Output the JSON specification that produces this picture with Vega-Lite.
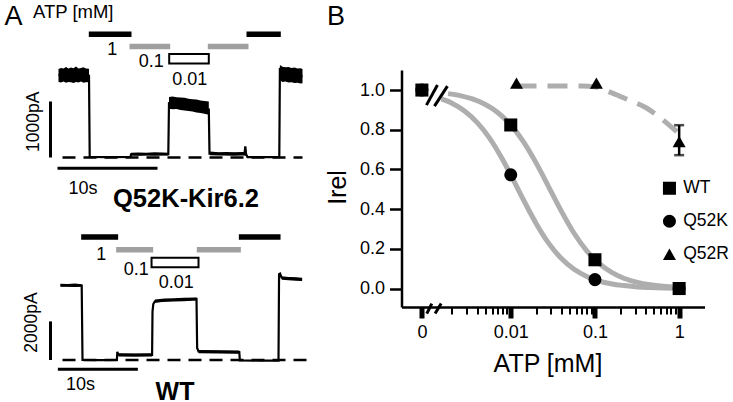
{
  "$schema": "https://vega.github.io/schema/vega-lite/v6.json",
  "background": "white",
  "padding": {"left": 3.5, "top": 2, "right": 5, "bottom": 5},
  "spacing": 13,
  "config": {
    "font": "Liberation Sans",
    "view": {"stroke": null},
    "axis": {"grid": false, "domainColor": "#000000", "tickColor": "#000000", "labelColor": "#000000", "titleColor": "#000000", "labelFont": "Liberation Sans", "titleFont": "Liberation Sans", "titleFontWeight": "normal"},
    "legend": {"labelFont": "Liberation Sans", "labelColor": "#000000"},
    "text": {"font": "Liberation Sans", "color": "#000000"}
  },
  "datasets": {
    "barsQ": [
      {"conc": "1", "t0": 3.13, "t1": 7.2},
      {"conc": "0.1", "t0": 7.2, "t1": 11.07},
      {"conc": "0.01", "t0": 11.07, "t1": 15.03},
      {"conc": "0.1", "t0": 15.03, "t1": 18.9},
      {"conc": "1", "t0": 18.9, "t1": 22.13}
    ],
    "barsWT": [
      {"conc": "1", "t0": 2.71, "t1": 7.08},
      {"conc": "0.1", "t0": 7.08, "t1": 11.46},
      {"conc": "0.01", "t0": 11.38, "t1": 17.25},
      {"conc": "0.1", "t0": 17.16, "t1": 22.42},
      {"conc": "1", "t0": 22.42, "t1": 27.38}
    ],
    "traceQ": [
      {"t": 0, "i": 1470}, {"t": 3.05, "i": 1460}, {"t": 3.12, "i": 12}, {"t": 5, "i": 5}, {"t": 7.2, "i": 10},
      {"t": 7.25, "i": 55}, {"t": 9, "i": 60}, {"t": 10.98, "i": 58}, {"t": 11.05, "i": 970}, {"t": 13, "i": 910},
      {"t": 15.03, "i": 860}, {"t": 15.1, "i": 70}, {"t": 17, "i": 62}, {"t": 18.6, "i": 70}, {"t": 18.68, "i": 200},
      {"t": 18.76, "i": 60}, {"t": 18.9, "i": 8}, {"t": 20.5, "i": 5}, {"t": 22.08, "i": 6}, {"t": 22.14, "i": 1600},
      {"t": 22.3, "i": 1500}, {"t": 24.4, "i": 1450}
    ],
    "envQ": [
      {"seg": "a", "t": 0, "lo": 1350, "hi": 1580}, {"seg": "a", "t": 0.25, "lo": 1340, "hi": 1600},
      {"seg": "a", "t": 0.5, "lo": 1355, "hi": 1590}, {"seg": "a", "t": 0.75, "lo": 1335, "hi": 1615},
      {"seg": "a", "t": 1.0, "lo": 1350, "hi": 1590}, {"seg": "a", "t": 1.25, "lo": 1345, "hi": 1605},
      {"seg": "a", "t": 1.5, "lo": 1330, "hi": 1595}, {"seg": "a", "t": 1.75, "lo": 1350, "hi": 1625},
      {"seg": "a", "t": 2.0, "lo": 1340, "hi": 1590}, {"seg": "a", "t": 2.25, "lo": 1355, "hi": 1600},
      {"seg": "a", "t": 2.5, "lo": 1335, "hi": 1610}, {"seg": "a", "t": 2.75, "lo": 1345, "hi": 1590},
      {"seg": "a", "t": 3.05, "lo": 1350, "hi": 1585},
      {"seg": "b", "t": 7.25, "lo": 35, "hi": 85}, {"seg": "b", "t": 8.0, "lo": 30, "hi": 90},
      {"seg": "b", "t": 8.8, "lo": 35, "hi": 85}, {"seg": "b", "t": 9.6, "lo": 30, "hi": 95},
      {"seg": "b", "t": 10.4, "lo": 35, "hi": 90}, {"seg": "b", "t": 10.98, "lo": 35, "hi": 85},
      {"seg": "c", "t": 11.05, "lo": 870, "hi": 1080}, {"seg": "c", "t": 11.4, "lo": 860, "hi": 1090},
      {"seg": "c", "t": 11.8, "lo": 865, "hi": 1075}, {"seg": "c", "t": 12.2, "lo": 850, "hi": 1070},
      {"seg": "c", "t": 12.6, "lo": 840, "hi": 1065}, {"seg": "c", "t": 13.0, "lo": 830, "hi": 1050},
      {"seg": "c", "t": 13.4, "lo": 820, "hi": 1040}, {"seg": "c", "t": 13.8, "lo": 805, "hi": 1035},
      {"seg": "c", "t": 14.2, "lo": 795, "hi": 1020}, {"seg": "c", "t": 14.6, "lo": 780, "hi": 1010},
      {"seg": "c", "t": 15.03, "lo": 765, "hi": 1000},
      {"seg": "d", "t": 15.15, "lo": 40, "hi": 105}, {"seg": "d", "t": 16.0, "lo": 35, "hi": 95},
      {"seg": "d", "t": 16.8, "lo": 35, "hi": 100}, {"seg": "d", "t": 17.6, "lo": 30, "hi": 95},
      {"seg": "d", "t": 18.4, "lo": 35, "hi": 100}, {"seg": "d", "t": 18.85, "lo": 30, "hi": 90},
      {"seg": "e", "t": 22.14, "lo": 1380, "hi": 1650}, {"seg": "e", "t": 22.4, "lo": 1350, "hi": 1620},
      {"seg": "e", "t": 22.7, "lo": 1355, "hi": 1610}, {"seg": "e", "t": 23.0, "lo": 1340, "hi": 1615},
      {"seg": "e", "t": 23.3, "lo": 1345, "hi": 1600}, {"seg": "e", "t": 23.6, "lo": 1330, "hi": 1605},
      {"seg": "e", "t": 23.9, "lo": 1335, "hi": 1590}, {"seg": "e", "t": 24.2, "lo": 1320, "hi": 1595},
      {"seg": "e", "t": 24.4, "lo": 1325, "hi": 1580}
    ],
    "traceWT": [
      {"t": 0, "i": 3870}, {"t": 2.65, "i": 3860}, {"t": 2.75, "i": 0}, {"t": 5, "i": -10}, {"t": 7.05, "i": 0},
      {"t": 7.1, "i": 420}, {"t": 7.25, "i": 280}, {"t": 9.5, "i": 270}, {"t": 11.45, "i": 270}, {"t": 11.5, "i": 2500},
      {"t": 11.6, "i": 2900}, {"t": 11.8, "i": 3040}, {"t": 14, "i": 3110}, {"t": 17.0, "i": 3170}, {"t": 17.08, "i": 620},
      {"t": 17.25, "i": 450}, {"t": 20, "i": 420}, {"t": 22.35, "i": 410}, {"t": 22.42, "i": -20}, {"t": 25, "i": -30},
      {"t": 27.25, "i": -30}, {"t": 27.32, "i": 4450}, {"t": 27.45, "i": 4480}, {"t": 27.65, "i": 4260}, {"t": 29, "i": 4220},
      {"t": 30.2, "i": 4180}
    ],
    "envWT": [
      {"seg": "a", "t": 0, "lo": 3790, "hi": 3950}, {"seg": "a", "t": 0.9, "lo": 3800, "hi": 3940},
      {"seg": "a", "t": 1.8, "lo": 3780, "hi": 3960}, {"seg": "a", "t": 2.65, "lo": 3790, "hi": 3930},
      {"seg": "b", "t": 7.25, "lo": 180, "hi": 350}, {"seg": "b", "t": 9.3, "lo": 170, "hi": 340}, {"seg": "b", "t": 11.45, "lo": 180, "hi": 350},
      {"seg": "c", "t": 11.8, "lo": 2960, "hi": 3130}, {"seg": "c", "t": 13, "lo": 3020, "hi": 3190},
      {"seg": "c", "t": 14.2, "lo": 3030, "hi": 3200}, {"seg": "c", "t": 15.4, "lo": 3050, "hi": 3220},
      {"seg": "c", "t": 17.0, "lo": 3080, "hi": 3240},
      {"seg": "d", "t": 17.25, "lo": 350, "hi": 520}, {"seg": "d", "t": 19.8, "lo": 340, "hi": 500}, {"seg": "d", "t": 22.35, "lo": 330, "hi": 490},
      {"seg": "e", "t": 27.65, "lo": 4160, "hi": 4340}, {"seg": "e", "t": 28.5, "lo": 4130, "hi": 4300},
      {"seg": "e", "t": 29.4, "lo": 4110, "hi": 4290}, {"seg": "e", "t": 30.2, "lo": 4090, "hi": 4260}
    ],
    "zeroQ": [{"t0": 0.4, "t1": 24.4, "i": 0}],
    "zeroWT": [{"t0": 0.25, "t1": 31.25, "i": 0}],
    "sbQ": [{"t0": -0.8, "t1": -0.8, "i0": 0, "i1": 1000}, {"t0": -0.1, "t1": 9.9, "i0": -193, "i1": -193}],
    "sbWT": [{"t0": -1.25, "t1": -1.25, "i0": 0, "i1": 2000}, {"t0": -0.33, "t1": 9.67, "i0": -482, "i1": -482}],
    "fitB": [
      {"g": "WT", "atp": 0.0018, "irel": 0.982}, {"g": "WT", "atp": 0.0025, "irel": 0.972}, {"g": "WT", "atp": 0.0035, "irel": 0.955},
      {"g": "WT", "atp": 0.005, "irel": 0.927}, {"g": "WT", "atp": 0.007, "irel": 0.887}, {"g": "WT", "atp": 0.01, "irel": 0.824},
      {"g": "WT", "atp": 0.014, "irel": 0.743}, {"g": "WT", "atp": 0.02, "irel": 0.633}, {"g": "WT", "atp": 0.028, "irel": 0.515},
      {"g": "WT", "atp": 0.04, "irel": 0.389}, {"g": "WT", "atp": 0.056, "irel": 0.281}, {"g": "WT", "atp": 0.08, "irel": 0.19},
      {"g": "WT", "atp": 0.11, "irel": 0.129}, {"g": "WT", "atp": 0.16, "irel": 0.08}, {"g": "WT", "atp": 0.22, "irel": 0.052},
      {"g": "WT", "atp": 0.32, "irel": 0.031}, {"g": "WT", "atp": 0.45, "irel": 0.019}, {"g": "WT", "atp": 0.65, "irel": 0.011},
      {"g": "WT", "atp": 1.0, "irel": 0.006},
      {"g": "Q52K", "atp": 0.0015, "irel": 0.955}, {"g": "Q52K", "atp": 0.002, "irel": 0.934}, {"g": "Q52K", "atp": 0.0028, "irel": 0.896},
      {"g": "Q52K", "atp": 0.004, "irel": 0.836}, {"g": "Q52K", "atp": 0.0056, "irel": 0.758}, {"g": "Q52K", "atp": 0.008, "irel": 0.65},
      {"g": "Q52K", "atp": 0.01, "irel": 0.573}, {"g": "Q52K", "atp": 0.014, "irel": 0.451}, {"g": "Q52K", "atp": 0.02, "irel": 0.328},
      {"g": "Q52K", "atp": 0.028, "irel": 0.23}, {"g": "Q52K", "atp": 0.04, "irel": 0.151}, {"g": "Q52K", "atp": 0.056, "irel": 0.098},
      {"g": "Q52K", "atp": 0.08, "irel": 0.061}, {"g": "Q52K", "atp": 0.11, "irel": 0.039}, {"g": "Q52K", "atp": 0.16, "irel": 0.023},
      {"g": "Q52K", "atp": 0.22, "irel": 0.015}, {"g": "Q52K", "atp": 0.32, "irel": 0.008}, {"g": "Q52K", "atp": 0.45, "irel": 0.005},
      {"g": "Q52K", "atp": 0.65, "irel": 0.003}, {"g": "Q52K", "atp": 1.0, "irel": 0.002}
    ],
    "fitR": [
      {"atp": 0.0117, "irel": 1.02}, {"atp": 0.02, "irel": 1.02}, {"atp": 0.04, "irel": 1.02}, {"atp": 0.07, "irel": 1.02},
      {"atp": 0.1, "irel": 1.016}, {"atp": 0.13, "irel": 1.0}, {"atp": 0.18, "irel": 0.976}, {"atp": 0.25, "irel": 0.95},
      {"atp": 0.4, "irel": 0.912}, {"atp": 0.6, "irel": 0.86}, {"atp": 0.83, "irel": 0.81}, {"atp": 0.94, "irel": 0.79}
    ],
    "ptsB": [
      {"g": "Q52K", "atp": 0, "irel": 1.0}, {"g": "WT", "atp": 0, "irel": 1.0},
      {"g": "WT", "atp": 0.01, "irel": 0.824}, {"g": "WT", "atp": 0.1, "irel": 0.145}, {"g": "WT", "atp": 1, "irel": 0.0},
      {"g": "Q52K", "atp": 0.01, "irel": 0.573}, {"g": "Q52K", "atp": 0.1, "irel": 0.045}, {"g": "Q52K", "atp": 1, "irel": 0.0},
      {"g": "Q52R", "atp": 0.0117, "irel": 1.035}, {"g": "Q52R", "atp": 0.104, "irel": 1.035}, {"g": "Q52R", "atp": 1, "irel": 0.74}
    ],
    "errB": [{"atp": 1, "lo": 0.672, "hi": 0.823}],
    "brkB": [
      {"x1": 0.000997, "x2": 0.001347, "y1": 0.924, "y2": 1.025},
      {"x1": 0.001241, "x2": 0.00177, "y1": 0.919, "y2": 1.02},
      {"x1": 0.001006, "x2": 0.001153, "y1": -0.126, "y2": -0.0756},
      {"x1": 0.001264, "x2": 0.001491, "y1": -0.126, "y2": -0.0756}
    ]
  },
  "hconcat": [
    {
      "bounds": "flush",
      "spacing": 60,
      "vconcat": [
        {
          "width": 270,
          "height": 100,
          "resolve": {"scale": {"y": "independent"}, "axis": {"y": "independent"}},
          "layer": [
            {
              "layer": [
                {
                  "data": {"name": "barsQ"},
                  "transform": [{"filter": "datum.conc !== '0.01'"}],
                  "mark": {"type": "bar", "height": 3.5, "strokeWidth": 2},
                  "encoding": {
                    "x": {"field": "t0", "type": "quantitative", "scale": {"domain": [-1.8, 25.2], "nice": false, "zero": false}},
                    "x2": {"field": "t1"},
                    "y": {"field": "conc", "type": "nominal", "scale": {"domain": ["1", "0.1", "0.01"], "range": [-42, -5], "paddingInner": 0, "paddingOuter": 0},
                      "axis": {"title": "ATP [mM]", "orient": "left", "domain": false, "ticks": false, "labels": false, "titleAngle": 0, "titleX": -8, "titleY": -53, "titleAlign": "left", "titleBaseline": "alphabetic", "titleFontSize": 18.5, "titleFontWeight": "normal"}},
                    "fill": {"field": "conc", "type": "nominal", "scale": {"domain": ["1", "0.1"], "range": ["#000000", "#a0a0a0"]}, "legend": null},
                    "stroke": {"field": "conc", "type": "nominal", "scale": {"domain": ["1", "0.1"], "range": ["#000000", "#a0a0a0"]}, "legend": null}
                  }
                },
                {
                  "data": {"name": "barsQ"},
                  "transform": [{"filter": "datum.conc === '0.01'"}],
                  "mark": {"type": "bar", "height": 9.5, "fill": "#ffffff", "stroke": "#000000", "strokeWidth": 2},
                  "encoding": {
                    "x": {"field": "t0", "type": "quantitative"},
                    "x2": {"field": "t1"},
                    "y": {"field": "conc", "type": "nominal"}
                  }
                },
                {
                  "data": {"values": [{"label": "1", "t": 5.37, "conc": "1"}]},
                  "mark": {"type": "text", "fontSize": 18, "dy": 20.8, "align": "center", "baseline": "alphabetic"},
                  "encoding": {"x": {"field": "t", "type": "quantitative"}, "y": {"field": "conc", "type": "nominal"}, "text": {"field": "label"}}
                },
                {
                  "data": {"values": [{"label": "0.1", "t": 10.53, "conc": "0.01"}]},
                  "mark": {"type": "text", "fontSize": 18, "dy": 7.9, "align": "right", "baseline": "alphabetic"},
                  "encoding": {"x": {"field": "t", "type": "quantitative"}, "y": {"field": "conc", "type": "nominal"}, "text": {"field": "label"}}
                },
                {
                  "data": {"values": [{"label": "0.01", "t": 13.12, "conc": "0.01"}]},
                  "mark": {"type": "text", "fontSize": 18, "dy": 26.2, "align": "center", "baseline": "alphabetic"},
                  "encoding": {"x": {"field": "t", "type": "quantitative"}, "y": {"field": "conc", "type": "nominal"}, "text": {"field": "label"}}
                }
              ]
            },
            {
              "layer": [
                {
                  "data": {"name": "zeroQ"},
                  "mark": {"type": "rule", "color": "#000000", "strokeWidth": 2.5, "strokeDash": [13, 8]},
                  "encoding": {
                    "x": {"field": "t0", "type": "quantitative", "scale": {"domain": [-1.8, 25.2], "nice": false, "zero": false}},
                    "x2": {"field": "t1"},
                    "y": {"field": "i", "type": "quantitative", "scale": {"domain": [-223.2, 1562.5], "nice": false, "zero": false}}
                  }
                },
                {
                  "data": {"name": "sbQ"},
                  "mark": {"type": "rule", "color": "#000000", "strokeWidth": 3},
                  "encoding": {
                    "x": {"field": "t0", "type": "quantitative"},
                    "x2": {"field": "t1"},
                    "y": {"field": "i0", "type": "quantitative"},
                    "y2": {"field": "i1"}
                  }
                },
                {
                  "data": {"values": [{"label": "10s", "t": 2.45, "i": -193}]},
                  "mark": {"type": "text", "fontSize": 18, "dy": 26, "align": "center", "baseline": "alphabetic"},
                  "encoding": {"x": {"field": "t", "type": "quantitative"}, "y": {"field": "i", "type": "quantitative"}, "text": {"field": "label"}}
                },
                {
                  "data": {"values": [{"label": "1000pA", "t": -0.8, "i": 639}]},
                  "mark": {"type": "text", "fontSize": 17.5, "angle": 270, "dy": -12, "align": "center", "baseline": "alphabetic"},
                  "encoding": {"x": {"field": "t", "type": "quantitative"}, "y": {"field": "i", "type": "quantitative"}, "text": {"field": "label"}}
                },
                {
                  "data": {"name": "envQ"},
                  "mark": {"type": "area", "orient": "vertical", "color": "#000000", "opacity": 1},
                  "encoding": {
                    "x": {"field": "t", "type": "quantitative"},
                    "y": {"field": "lo", "type": "quantitative"},
                    "y2": {"field": "hi"},
                    "detail": {"field": "seg", "type": "nominal"}
                  }
                },
                {
                  "data": {"name": "traceQ"},
                  "mark": {"type": "line", "color": "#000000", "strokeWidth": 2.2},
                  "encoding": {
                    "x": {"field": "t", "type": "quantitative", "scale": {"domain": [-1.8, 25.2], "nice": false, "zero": false},
                      "axis": {"title": "Q52K-Kir6.2", "domain": false, "ticks": false, "labels": false, "grid": false, "titleFontSize": 25.5, "titleFontWeight": "bold", "titleX": 145, "titleY": 36.2, "titleAlign": "center", "titleBaseline": "alphabetic"}},
                    "y": {"field": "i", "type": "quantitative",
                      "axis": {"orient": "left", "title": "A", "domain": false, "ticks": false, "labels": false, "grid": false, "titleAngle": 0, "titleX": -36.5, "titleY": -46, "titleAlign": "left", "titleBaseline": "alphabetic", "titleFontSize": 27, "titleFontWeight": "normal"}}
                  }
                }
              ]
            }
          ]
        },
        {
          "width": 270,
          "height": 145,
          "resolve": {"scale": {"y": "independent"}, "axis": {"y": "independent"}},
          "layer": [
            {
              "layer": [
                {
                  "data": {"name": "barsWT"},
                  "transform": [{"filter": "datum.conc !== '0.01'"}],
                  "mark": {"type": "bar", "height": 3.5, "strokeWidth": 2},
                  "encoding": {
                    "x": {"field": "t0", "type": "quantitative", "scale": {"domain": [-2.5, 31.25], "nice": false, "zero": false}},
                    "x2": {"field": "t1"},
                    "y": {"field": "conc", "type": "nominal", "scale": {"domain": ["1", "0.1", "0.01"], "range": [0.5, 39], "paddingInner": 0, "paddingOuter": 0}, "axis": null},
                    "fill": {"field": "conc", "type": "nominal", "scale": {"domain": ["1", "0.1"], "range": ["#000000", "#a0a0a0"]}, "legend": null},
                    "stroke": {"field": "conc", "type": "nominal", "scale": {"domain": ["1", "0.1"], "range": ["#000000", "#a0a0a0"]}, "legend": null}
                  }
                },
                {
                  "data": {"name": "barsWT"},
                  "transform": [{"filter": "datum.conc === '0.01'"}],
                  "mark": {"type": "bar", "height": 9.5, "fill": "#ffffff", "stroke": "#000000", "strokeWidth": 2},
                  "encoding": {
                    "x": {"field": "t0", "type": "quantitative"},
                    "x2": {"field": "t1"},
                    "y": {"field": "conc", "type": "nominal", "axis": null}
                  }
                },
                {
                  "data": {"values": [{"label": "1", "t": 5.1, "conc": "1"}]},
                  "mark": {"type": "text", "fontSize": 18, "dy": 23.1, "align": "center", "baseline": "alphabetic"},
                  "encoding": {"x": {"field": "t", "type": "quantitative"}, "y": {"field": "conc", "type": "nominal", "axis": null}, "text": {"field": "label"}}
                },
                {
                  "data": {"values": [{"label": "0.1", "t": 11.04, "conc": "0.01"}]},
                  "mark": {"type": "text", "fontSize": 18, "dy": 12.4, "align": "right", "baseline": "alphabetic"},
                  "encoding": {"x": {"field": "t", "type": "quantitative"}, "y": {"field": "conc", "type": "nominal", "axis": null}, "text": {"field": "label"}}
                },
                {
                  "data": {"values": [{"label": "0.01", "t": 14.48, "conc": "0.01"}]},
                  "mark": {"type": "text", "fontSize": 18, "dy": 25.7, "align": "center", "baseline": "alphabetic"},
                  "encoding": {"x": {"field": "t", "type": "quantitative"}, "y": {"field": "conc", "type": "nominal", "axis": null}, "text": {"field": "label"}}
                }
              ]
            },
            {
              "layer": [
                {
                  "data": {"name": "zeroWT"},
                  "mark": {"type": "rule", "color": "#000000", "strokeWidth": 2.5, "strokeDash": [13, 8]},
                  "encoding": {
                    "x": {"field": "t0", "type": "quantitative", "scale": {"domain": [-2.5, 31.25], "nice": false, "zero": false}},
                    "x2": {"field": "t1"},
                    "y": {"field": "i", "type": "quantitative", "scale": {"domain": [-777.2, 6735.8], "nice": false, "zero": false}, "axis": null}
                  }
                },
                {
                  "data": {"name": "sbWT"},
                  "mark": {"type": "rule", "color": "#000000", "strokeWidth": 3},
                  "encoding": {
                    "x": {"field": "t0", "type": "quantitative"},
                    "x2": {"field": "t1"},
                    "y": {"field": "i0", "type": "quantitative", "axis": null},
                    "y2": {"field": "i1"}
                  }
                },
                {
                  "data": {"values": [{"label": "10s", "t": 2.5, "i": -482}]},
                  "mark": {"type": "text", "fontSize": 18, "dy": 20.7, "align": "center", "baseline": "alphabetic"},
                  "encoding": {"x": {"field": "t", "type": "quantitative"}, "y": {"field": "i", "type": "quantitative", "axis": null}, "text": {"field": "label"}}
                },
                {
                  "data": {"values": [{"label": "2000pA", "t": -1.25, "i": 1943}]},
                  "mark": {"type": "text", "fontSize": 17.5, "angle": 270, "dy": -13.5, "align": "center", "baseline": "alphabetic"},
                  "encoding": {"x": {"field": "t", "type": "quantitative"}, "y": {"field": "i", "type": "quantitative", "axis": null}, "text": {"field": "label"}}
                },
                {
                  "data": {"name": "envWT"},
                  "mark": {"type": "area", "orient": "vertical", "color": "#000000", "opacity": 1},
                  "encoding": {
                    "x": {"field": "t", "type": "quantitative"},
                    "y": {"field": "lo", "type": "quantitative", "axis": null},
                    "y2": {"field": "hi"},
                    "detail": {"field": "seg", "type": "nominal"}
                  }
                },
                {
                  "data": {"name": "traceWT"},
                  "mark": {"type": "line", "color": "#000000", "strokeWidth": 2.2},
                  "encoding": {
                    "x": {"field": "t", "type": "quantitative", "scale": {"domain": [-2.5, 31.25], "nice": false, "zero": false},
                      "axis": {"title": "WT", "domain": false, "ticks": false, "labels": false, "grid": false, "titleFontSize": 25, "titleFontWeight": "bold", "titleX": 134, "titleY": 24.6, "titleAlign": "center", "titleBaseline": "alphabetic"}},
                    "y": {"field": "i", "type": "quantitative", "axis": null}
                  }
                }
              ]
            }
          ]
        }
      ]
    },
    {
      "width": 303,
      "height": 237,
      "resolve": {"scale": {"x": "independent"}, "axis": {"x": "independent"}},
      "layer": [
        {
          "layer": [
            {
              "data": {"name": "fitB"},
              "mark": {"type": "line", "color": "#aeaeae", "strokeWidth": 5, "interpolate": "monotone"},
              "encoding": {
                "x": {"field": "atp", "type": "quantitative", "scale": {"type": "log", "domain": [0.000504, 2], "nice": false}},
                "y": {"field": "irel", "type": "quantitative", "scale": {"domain": [-0.093, 1.101], "nice": false, "zero": false}},
                "detail": {"field": "g", "type": "nominal"}
              }
            },
            {
              "data": {"name": "fitR"},
              "mark": {"type": "line", "color": "#aeaeae", "strokeWidth": 5, "strokeDash": [20, 11], "interpolate": "monotone"},
              "encoding": {
                "x": {"field": "atp", "type": "quantitative", "scale": {"type": "log", "domain": [0.000504, 2], "nice": false}},
                "y": {"field": "irel", "type": "quantitative"}
              }
            },
            {
              "data": {"name": "brkB"},
              "mark": {"type": "rule", "color": "#000000", "strokeWidth": 3},
              "encoding": {
                "x": {"field": "x1", "type": "quantitative", "scale": {"type": "log", "domain": [0.000504, 2], "nice": false}},
                "x2": {"field": "x2"},
                "y": {"field": "y1", "type": "quantitative"},
                "y2": {"field": "y2"}
              }
            },
            {
              "data": {"name": "errB"},
              "mark": {"type": "errorbar", "color": "#000000", "thickness": 2.5, "ticks": {"size": 10, "thickness": 2.5, "color": "#000000"}},
              "encoding": {
                "x": {"field": "atp", "type": "quantitative", "scale": {"type": "log", "domain": [0.000504, 2], "nice": false}},
                "y": {"field": "lo", "type": "quantitative", "title": "Irel"},
                "y2": {"field": "hi"}
              }
            },
            {
              "data": {"name": "ptsB"},
              "transform": [{"calculate": "datum.atp === 0 ? 0.00088 : datum.atp", "as": "atpPos"}],
              "mark": {"type": "point", "filled": true, "size": 170, "color": "#000000", "opacity": 1, "strokeWidth": 0},
              "encoding": {
                "x": {"field": "atpPos", "type": "quantitative", "scale": {"type": "log", "domain": [0.000504, 2], "nice": false},
                  "axis": {"orient": "bottom", "values": [0.00088, 0.01, 0.1, 1], "labelExpr": "datum.value < 0.005 ? '0' : datum.value < 0.05 ? '0.01' : datum.value < 0.5 ? '0.1' : '1'",
                    "tickSize": 11, "tickWidth": 5, "domainWidth": 2.5, "labelFontSize": 18, "labelPadding": 5, "labelFlush": false, "labelOverlap": false,
                    "title": "ATP [mM]", "titleFontSize": 25, "titleX": 146, "titleY": 64, "titleAlign": "center", "titleBaseline": "alphabetic", "grid": false}},
                "y": {"field": "irel", "type": "quantitative", "title": "Irel", "scale": {"domain": [-0.093, 1.101], "nice": false, "zero": false},
                  "axis": {"values": [0, 0.2, 0.4, 0.6, 0.8, 1.0], "format": ".1f", "tickSize": 12, "tickWidth": 2.5, "domainWidth": 2.5, "labelFontSize": 18, "labelPadding": 5, "labelFlush": false,
                    "title": "Irel", "titleFontSize": 25, "titleAngle": 270, "titleX": -56, "titleY": 117, "titleAlign": "center", "titleBaseline": "alphabetic", "grid": false}},
                "shape": {"field": "g", "type": "nominal", "scale": {"domain": ["WT", "Q52K", "Q52R"], "range": ["square", "circle", "triangle-up"]},
                  "legend": {"orient": "none", "legendX": 620.2, "legendY": 109.5, "title": null, "labelFontSize": 17.5, "symbolSize": 170, "rowPadding": 14, "labelOffset": 5, "padding": 0,
                    "symbolFillColor": "#000000", "symbolStrokeWidth": 0, "labelColor": "#000000"}}
              }
            }
          ]
        },
        {
          "data": {"values": [{"atp": 0.01}]},
          "mark": {"type": "point", "opacity": 0},
          "encoding": {
            "x": {"field": "atp", "type": "quantitative", "scale": {"type": "log", "domain": [0.000504, 2], "nice": false},
              "axis": {"orient": "bottom", "values": [0.002, 0.003, 0.004, 0.005, 0.006, 0.007, 0.008, 0.009, 0.02, 0.03, 0.04, 0.05, 0.06, 0.07, 0.08, 0.09, 0.2, 0.3, 0.4, 0.5, 0.6, 0.7, 0.8, 0.9],
                "labels": false, "domain": false, "tickSize": 7, "tickWidth": 2, "grid": false,
                "title": "B", "titleFontSize": 27, "titleFontWeight": "normal", "titleAngle": 0, "titleX": -75, "titleY": -283, "titleAlign": "left", "titleBaseline": "alphabetic"}}
          }
        }
      ]
    }
  ]
}
